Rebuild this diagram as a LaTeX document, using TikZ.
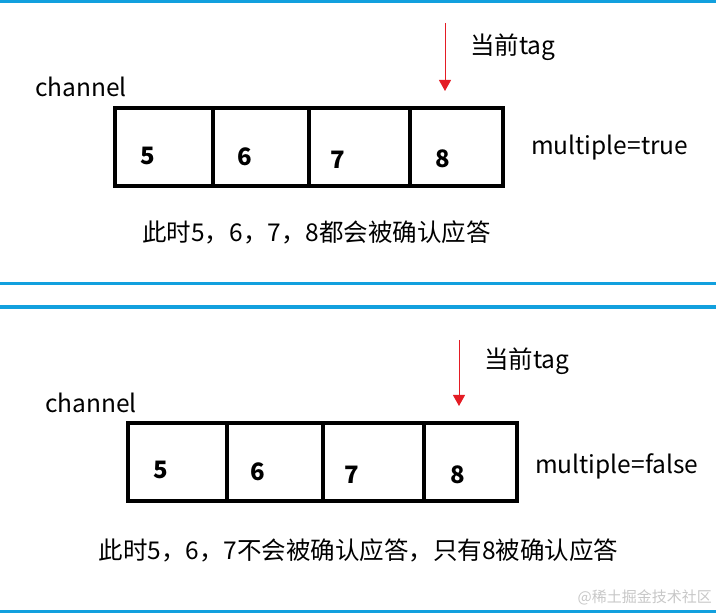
\documentclass[tikz,border=0pt]{standalone}
\usepackage{fontspec}
\setmainfont{Noto Sans CJK SC}
\usetikzlibrary{arrows.meta}
\definecolor{sepblue}{RGB}{18,160,222}
\definecolor{tagred}{RGB}{228,28,36}

\begin{document}
\begin{tikzpicture}[x=1pt,y=1pt,
    sep/.style={sepblue, line width=3.5pt},
    chanbox/.style={line width=3.2pt},
    num/.style={font=\fontsize{24}{26}\selectfont\bfseries, inner sep=0pt},
    lbl/.style={font=\fontsize{24.5}{27}\selectfont, inner sep=0pt},
    tagarrow/.style={-{Triangle[width=12pt,length=11pt]}, tagred, line width=1pt}]
    \useasboundingbox (0,0) rectangle (716,613);

    % blue separators
    \draw[sep](0,611.5)--(716,611.5);
    \draw[sep](0,329.5)--(716,329.5);
    \draw[sep](0,306)--(716,306);
    \draw[sep](0,1.5)--(716,1.5);

    % multiple=true
    \draw[chanbox](115,427) rectangle (503,505);
    \draw[chanbox](213,427)--(213,505) (309,427)--(309,505) (410,427)--(410,505);
    \node[num] (t5) at (148,457) {5};
    \node[num] (t6) at (245,456) {6};
    \node[num] (t7) at (338,453) {7};
    \node[num] (t8) at (443,454) {8};
    \node[lbl, anchor=west] (tchan) at (35,526) {channel};
    \coordinate (ttop) at (445,590);
    \coordinate (ttip) at (445,522);
    \draw[tagarrow](ttop)--(ttip);
    \node[lbl, anchor=west] (ttag) at (470,566) {当前tag};
    \node[lbl, anchor=west] (tmul) at (531,465) {multiple=true};
    \node[lbl] (tnote) at (316.5,381) {此时5，6，7，8都会被确认应答};

    % multiple=false
    \draw[chanbox](128,112) rectangle (517,190);
    \draw[chanbox](227,112)--(227,190) (323,112)--(323,190) (424,112)--(424,190);
    \node[num] (f5) at (161,143) {5};
    \node[num] (f6) at (258,141) {6};
    \node[num] (f7) at (352,138) {7};
    \node[num] (f8) at (458,138) {8};
    \node[lbl, anchor=west] (fchan) at (45,210) {channel};
    \coordinate (ftop) at (459,273);
    \coordinate (ftip) at (459,207);
    \draw[tagarrow](ftop)--(ftip);
    \node[lbl, anchor=west] (ftag) at (484,252) {当前tag};
    \node[lbl, anchor=west] (fmul) at (535,147) {multiple=false};
    \node[lbl] (fnote) at (358.5,63) {此时5，6，7不会被确认应答，只有8被确认应答};

    \node[font=\fontsize{15}{17}\selectfont, text=black!22, inner sep=0pt, anchor=east] (mark) at (712,16) {@稀土掘金技术社区};
\end{tikzpicture}
\end{document}
